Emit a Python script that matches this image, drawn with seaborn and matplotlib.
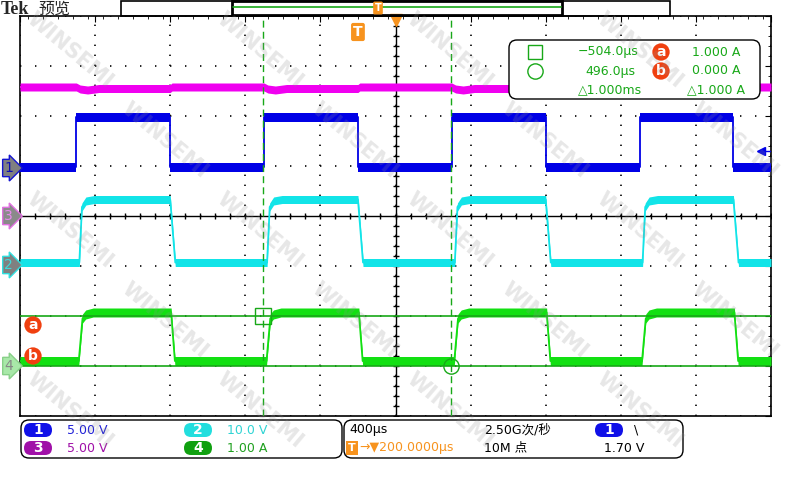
import numpy as np
import matplotlib
matplotlib.use("Agg")
import matplotlib.pyplot as plt
import matplotlib.transforms as mtrans
from matplotlib.ticker import MultipleLocator
from matplotlib.patches import FancyBboxPatch, Rectangle
import seaborn as sns

# timebase: 400 us/div, trigger at t=0, screen centre at +200 us
t_div = 400.0
h_pos = 200.0

# channel settings (V/div, A/div for ch4) and ground marker in divisions
ch_scale = {"1": 5.0, "2": 10.0, "3": 5.0, "4": 1.0}
ch_offset = {"1": 0.96, "2": -0.98, "3": 0.0, "4": -3.0}
ch_label = {"1": "5.00 V", "2": "10.0 V", "3": "5.00 V", "4": "1.00 A"}

# edges of the 1 kHz drive signal (us, relative to trigger)
rise_t = [-1500, -500, 500, 1500]
fall_t = [-1000, 0, 1000, 2000]

# edge shapes per channel: time after the edge (us) and level
ch1_rise_dt, ch1_rise_v = [0, 0], [0.1, 5.1]
ch1_fall_dt, ch1_fall_v = [0, 0], [5.1, 0.1]
ch2_rise_dt, ch2_rise_v = [16, 30, 51, 96], [0.5, 11.6, 12.8, 13.1]
ch2_fall_dt, ch2_fall_v = [0, 27], [13.1, 0.5]
ch3_rise_dt, ch3_rise_v = [0, 20, 60, 120], [12.9, 12.7, 12.6, 12.75]
ch3_fall_dt, ch3_fall_v = [0, 10], [12.75, 12.9]
ch4_rise_dt, ch4_rise_v = [13, 33, 50, 90], [0.1, 0.95, 1.03, 1.07]
ch4_fall_dt, ch4_fall_v = [5, 25], [1.07, 0.1]

cursor_t = [-504.0, 496.0]     # us
cursor_ab = [1.000, 0.000]     # ch4, A
trig_level = 1.70              # V on ch1
sample_rate = "2.50G次/秒"
record_len = "10M 点"

col = {"1": "#0000e6", "2": "#12e4e8", "3": "#f000f0", "4": "#12e012"}
band = {"1": 0.09, "2": 0.08, "3": 0.08, "4": 0.09}
pill_col = {"1": "#1010e8", "2": "#22dede", "3": "#a010a8", "4": "#10a010"}
txt_col = {"1": "#2020d8", "2": "#30d4d4", "3": "#a010a8", "4": "#20a020"}
cur_col = "#18a818"
orange = "#f7931e"
red_or = "#f04010"

x_lo = h_pos - 5 * t_div
x_hi = h_pos + 5 * t_div


def build(rdt, rv, fdt, fv):
    t, v = [x_lo], [fv[-1]]
    for r, f in zip(rise_t, fall_t):
        t += [r + d for d in rdt]
        v += list(rv)
        t += [f + d for d in fdt]
        v += list(fv)
    t.append(x_hi)
    v.append(fv[-1])
    return np.array(t, float), np.array(v, float)


sns.set_style("white")
plt.rcParams["font.family"] = ["DejaVu Sans", "Noto Sans CJK SC"]
plt.rcParams["lines.scale_dashes"] = False

fig = plt.figure(figsize=(8, 4.8), dpi=100)
ax = fig.add_axes([20 / 800, 64 / 480, 751 / 800, 400 / 480])
ax.set_xlim(x_lo, x_hi)
ax.set_ylim(-4, 4)

# graticule
ax.set_xticks(np.arange(x_lo, x_hi + 1, t_div))
ax.set_yticks(np.arange(-4, 5))
ax.xaxis.set_minor_locator(MultipleLocator(t_div / 5))
ax.yaxis.set_minor_locator(MultipleLocator(0.2))
ax.grid(axis="x", color="k", lw=1.2, linestyle=(0, (1, 6.2)))
ax.grid(axis="y", color="k", lw=1.2, linestyle=(0, (1, 9.8)))
ax.tick_params(which="both", direction="in", top=True, right=True,
               labelbottom=False, labelleft=False, color="k")
ax.tick_params(which="major", length=4)
ax.tick_params(which="minor", length=2)
for s in ax.spines.values():
    s.set_color("k")
    s.set_linewidth(1.2)
ax.axvline(h_pos, color="k", lw=1, zorder=1)
ax.axhline(0, color="k", lw=1, zorder=1)
ax.plot(np.arange(x_lo, x_hi + 1, t_div / 5), np.zeros(51), ls="none",
        marker="|", ms=5, mew=1, color="k", zorder=1)
ax.plot(np.full(41, h_pos), np.linspace(-4, 4, 41), ls="none",
        marker="_", ms=5, mew=1, color="k", zorder=1)

shapes = {
    "3": (ch3_rise_dt, ch3_rise_v, ch3_fall_dt, ch3_fall_v),
    "1": (ch1_rise_dt, ch1_rise_v, ch1_fall_dt, ch1_fall_v),
    "2": (ch2_rise_dt, ch2_rise_v, ch2_fall_dt, ch2_fall_v),
    "4": (ch4_rise_dt, ch4_rise_v, ch4_fall_dt, ch4_fall_v),
}
for ch, sh in shapes.items():
    t, v = build(*sh)
    y = ch_offset[ch] + v / ch_scale[ch]
    ax.fill_between(t, y - band[ch], y + band[ch], color=col[ch], lw=0, zorder=3)
    sns.lineplot(x=t, y=y, ax=ax, color=col[ch], lw=1.3, estimator=None,
                 sort=False, zorder=3)

# cursors
y_ab = [ch_offset["4"] + c / ch_scale["4"] for c in cursor_ab]
for ct in cursor_t:
    ax.axvline(ct, color=cur_col, lw=1, ls=(0, (5, 3)), zorder=4)
for yc in y_ab:
    ax.axhline(yc, color=cur_col, lw=1.2, zorder=4)
ax.plot(cursor_t[0], y_ab[0], marker="s", ms=11, mfc="none", mec=cur_col, mew=1, zorder=5)
ax.plot(cursor_t[1], y_ab[1], marker="o", ms=11, mfc="none", mec=cur_col, mew=1, zorder=5)

blend = mtrans.blended_transform_factory(ax.transAxes, ax.transData)
ax.text(0.0173, y_ab[0] - 0.18, "a", transform=blend, ha="center", va="center",
        color="white", weight="bold", size=10, zorder=6,
        bbox=dict(boxstyle="circle,pad=0.12", fc=red_or, ec="none"))
ax.text(0.0173, y_ab[1] + 0.2, "b", transform=blend, ha="center", va="center",
        color="white", weight="bold", size=10, zorder=6,
        bbox=dict(boxstyle="circle,pad=0.12", fc=red_or, ec="none"))

# channel ground markers
mk_style = {
    "1": ("#808080", "#1414d0", "#1010b0"),
    "3": ("#8a8a8a", "#e070e0", "#e888ee"),
    "2": ("#808080", "#30e0e0", "#40d8d8"),
    "4": ("#a8e8a8", "#88d088", "#888888"),
}
for ch, (fc, ec, tc) in mk_style.items():
    ax.text(-0.015, ch_offset[ch], ch, transform=blend, ha="center", va="center",
            color=tc, size=10, clip_on=False, zorder=6,
            bbox=dict(boxstyle="rarrow,pad=0.12", fc=fc, ec=ec, lw=1))

# trigger markers
ax.text(0, 3.68, "T", ha="center", va="center", color="white", weight="bold",
        size=10, zorder=6, bbox=dict(boxstyle="round,pad=0.15", fc=orange, ec="none"))
ax.plot(h_pos, 3.93, marker="v", ms=9, color=orange, clip_on=False, zorder=6)
y_trig = ch_offset["1"] + trig_level / ch_scale["1"]
ax.plot([0.987], [y_trig], marker="<", ms=6, color=col["1"], transform=blend, zorder=6)
ax.plot([0.987, 1.0], [y_trig, y_trig], lw=1, color=col["1"], transform=blend, zorder=6)

# overlay in screen pixels for the scope chrome
ov = fig.add_axes([0, 0, 1, 1], zorder=5)
ov.set_xlim(0, 800)
ov.set_ylim(480, 0)
ov.axis("off")
ov.patch.set_alpha(0)

ov.text(1, 9, "Tek", family="Liberation Serif", weight="bold", size=13, va="center")
ov.text(38, 9, "预览", family="Noto Sans CJK SC", size=11.5, va="center")
ov.add_patch(Rectangle((121, 0.5), 549, 15, fill=False, ec="k", lw=1.2))
ov.add_patch(Rectangle((232, 1), 330, 14, fill=False, ec="k", lw=2))
ov.plot([233, 561], [7, 7], color=cur_col, lw=1.2)
ov.text(378, 8, "T", ha="center", va="center", color="white", weight="bold", size=7,
        bbox=dict(boxstyle="round,pad=0.15", fc=orange, ec="none"))

fs = 9
# measurement readout
ov.add_patch(FancyBboxPatch((509, 40), 251, 59, boxstyle="round,pad=0,rounding_size=8",
                            fc="white", ec="k", lw=1))
ov.plot(535, 52, marker="s", ms=10, mfc="none", mec=cur_col, mew=1)
ov.plot(535, 71, marker="o", ms=11, mfc="none", mec=cur_col, mew=1)
ov.text(638, 52, f"{cursor_t[0]:.1f}µs".replace("-", "\u2212"), color=cur_col,
        size=fs, ha="right", va="center")
ov.text(635, 71, f"{cursor_t[1]:.1f}µs", color=cur_col, size=fs, ha="right", va="center")
ov.text(642, 90, f"△{(cursor_t[1] - cursor_t[0]) / 1000:.3f}ms", color=cur_col,
        size=fs, ha="right", va="center")
for yy, lab, val in [(52, "a", cursor_ab[0]), (71, "b", cursor_ab[1])]:
    ov.text(661, yy, lab, color="white", weight="bold", size=10, ha="center", va="center",
            bbox=dict(boxstyle="circle,pad=0.12", fc=red_or, ec="none"))
    ov.text(740, yy, f"{val:.3f} A", color=cur_col, size=fs, ha="right", va="center")
ov.text(745, 90, f"△{abs(cursor_ab[0] - cursor_ab[1]):.3f} A", color=cur_col,
        size=fs, ha="right", va="center")

# status bar
for x0, w in [(21, 321), (344, 339)]:
    ov.add_patch(FancyBboxPatch((x0, 420), w, 38, boxstyle="round,pad=0,rounding_size=8",
                                fc="white", ec="k", lw=1))


def pill(x, y, label, fc):
    ov.add_patch(FancyBboxPatch((x - 14, y - 7), 28, 14,
                                boxstyle="round,pad=0,rounding_size=7", fc=fc, ec="none"))
    ov.text(x, y + 0.5, label, color="white", weight="bold", size=10,
            ha="center", va="center")


for ch, (px, py) in {"1": (38, 430), "2": (198, 430), "3": (38, 448), "4": (198, 448)}.items():
    pill(px, py, ch, pill_col[ch])
    ov.text(px + 29, py, ch_label[ch], color=txt_col[ch], size=fs, va="center")

ov.text(349, 430, f"{t_div:.0f}µs", color="k", size=fs, va="center")
ov.text(352, 448, "T", ha="center", va="center", color="white", weight="bold", size=8,
        bbox=dict(boxstyle="square,pad=0.15", fc=orange, ec="none"))
ov.text(359, 448, f"→▼{h_pos:.4f}µs", color=orange, size=fs, va="center")
ov.text(484, 430, sample_rate, color="k", size=fs, va="center")
ov.text(484, 448, record_len, color="k", size=fs, va="center")
pill(609, 430, "1", pill_col["1"])
ov.text(634, 430, "\\", color="k", size=fs, va="center")
ov.text(604, 448, f"{trig_level:.2f} V", color="k", size=fs, va="center")

# WINSEMI watermark, kept inside the picture
for row, yy in enumerate([50, 140, 230, 320, 410]):
    for xx in [70 + (row % 2) * 95 + k * 190 for k in range(4)]:
        ov.text(xx, yy, "WINSEMI", rotation=-40, size=15, weight="bold",
                color="#909090", alpha=0.22, ha="center", va="center")

fig.savefig("out.png", dpi=100)
